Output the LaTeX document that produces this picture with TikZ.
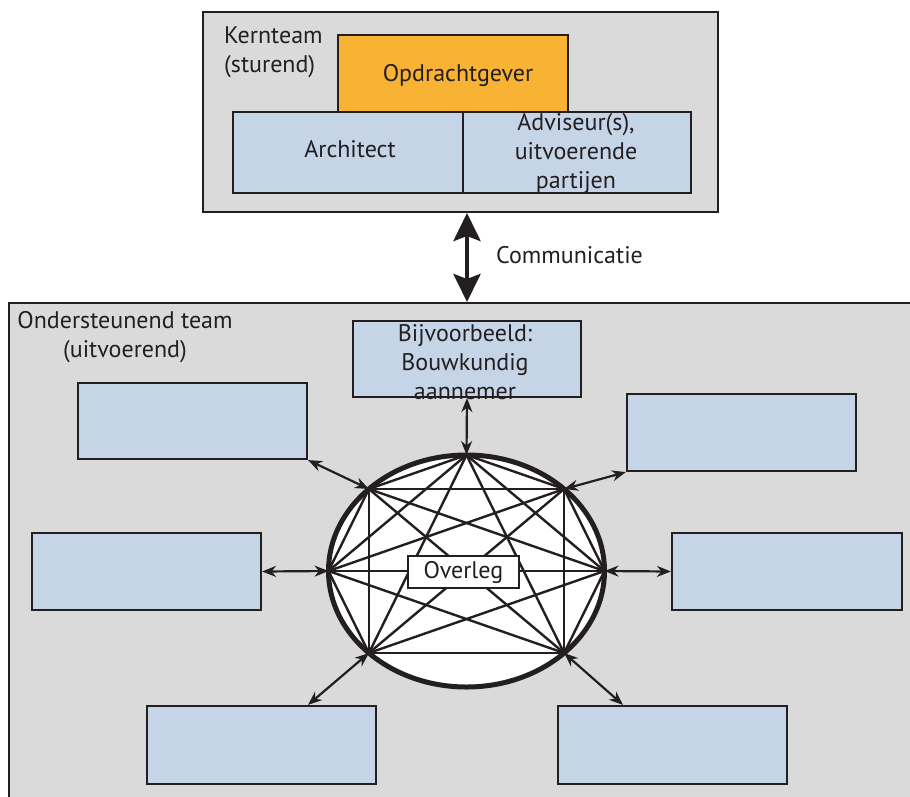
\documentclass[tikz,border=0pt]{standalone}
\usepackage{fontspec}
\setmainfont{PT Sans}
\usetikzlibrary{arrows.meta,calc}
\definecolor{fgray}{HTML}{DADADA}
\definecolor{fblue}{HTML}{C5D4E7}
\definecolor{forange}{HTML}{F9B334}
\definecolor{ink}{HTML}{231F20}
\tikzset{
  panel/.style={draw=ink,line width=2pt,fill=fgray,rectangle,inner sep=0pt},
  bbox/.style={draw=ink,line width=2.2pt,fill=fblue,rectangle,inner sep=0pt},
  obox/.style={draw=ink,line width=2.2pt,fill=forange,rectangle,inner sep=0pt},
  txt/.style={text=ink,font=\fontsize{24}{29}\selectfont,align=center,inner sep=0pt},
  link/.style={draw=ink,line width=2.4pt},
  dbl/.style={draw=ink,line width=2.2pt,{Stealth[length=14pt,width=11pt]}-{Stealth[length=14pt,width=11pt]}},
  comm/.style={draw=ink,line width=4.5pt,{Stealth[length=28pt,width=27pt,inset=5pt]}-{Stealth[length=28pt,width=27pt,inset=5pt]}},
}
\begin{document}
\begin{tikzpicture}[x=1pt,y=-1pt]
\useasboundingbox (0,0) rectangle (910,796);
\clip (0,0) rectangle (910,796);
% top panel
\node[panel,minimum width=515pt,minimum height=200pt] (kern) at (460.5,112) {};
\node[txt,anchor=north west,align=left] (kernt) at (224,26) {Kernteam\\(sturend)};
\node[obox,minimum width=230pt,minimum height=77pt] (opdr) at (453,73.5) {};
\node[txt] (opdrt) at (458,75) {Opdrachtgever};
\node[bbox,minimum width=230pt,minimum height=81pt] (arch) at (348,152.5) {};
\node[txt] (archt) at (350,149) {Architect};
\node[bbox,minimum width=228pt,minimum height=81pt] (adv) at (577,152.5) {};
\node[txt] (advt) at (576,153) {Adviseur(s),\\uitvoerende\\partijen};
% bottom panel
\node[panel,minimum width=906pt,minimum height=502pt] (ond) at (462,554) {};
\node[txt] (ondt) at (125,337) {Ondersteunend team\\(uitvoerend)};
\node[bbox,minimum width=228pt,minimum height=76pt] (bij) at (467,359) {};
\node[txt] (bijt) at (465,362) {Bijvoorbeeld:\\Bouwkundig\\aannemer};
\node[bbox,minimum width=229pt,minimum height=76pt] (ul) at (192.5,421) {};
\node[bbox,minimum width=229pt,minimum height=77pt] (ur) at (741.5,432.5) {};
\node[bbox,minimum width=229pt,minimum height=77pt] (ml) at (146.5,571.5) {};
\node[bbox,minimum width=230pt,minimum height=77pt] (mr) at (787,571.5) {};
\node[bbox,minimum width=229pt,minimum height=78pt] (ll) at (261.5,745) {};
\node[bbox,minimum width=229pt,minimum height=78pt] (lr) at (672.5,745) {};
% communication
\draw[comm] (bij |- kern.south) -- (bij |- ond.north);
\node[txt,anchor=west] (commt) at (496,255) {Communicatie};
% ellipse
\coordinate (c) at (466.5,571);
\fill[white] (c) ellipse [x radius=138pt,y radius=116pt];
\coordinate (T) at (466.5,455);
\coordinate (UL) at (368.9,489);
\coordinate (UR) at (564.1,489);
\coordinate (L) at (328.5,571);
\coordinate (R) at (604.5,571);
\coordinate (LL) at (368.9,653);
\coordinate (LR) at (564.1,653);
\foreach \a/\b in {T/UL,T/UR,T/L,T/R,T/LL,T/LR,UL/UR,UL/L,UL/R,UL/LL,UL/LR,UR/L,UR/R,UR/LL,UR/LR,L/R,L/LL,L/LR,R/LL,R/LR,LL/LR}
  \draw[link] (\a) -- (\b);
\draw[ink,line width=5pt] (c) ellipse [x radius=138pt,y radius=116pt];
\node[draw=ink,fill=white,line width=2pt,minimum width=111pt,minimum height=32pt,inner sep=0pt] (ovl) at (463.5,572) {};
\node[txt] (ovlt) at (463.5,572) {Overleg};
% connectors
\draw[dbl] (T) -- (bij.south);
\draw[dbl] (UL) -- (ul.south east);
\draw[dbl] (UR) -- (ur.south west);
\draw[dbl] (L) -- (ml.east);
\draw[dbl] (R) -- (mr.west);
\draw[dbl] (LL) -- ($(ll.north)+(46.5,0)$);
\draw[dbl] (LR) -- ($(lr.north)+(-49.5,0)$);
\end{tikzpicture}
\end{document}
